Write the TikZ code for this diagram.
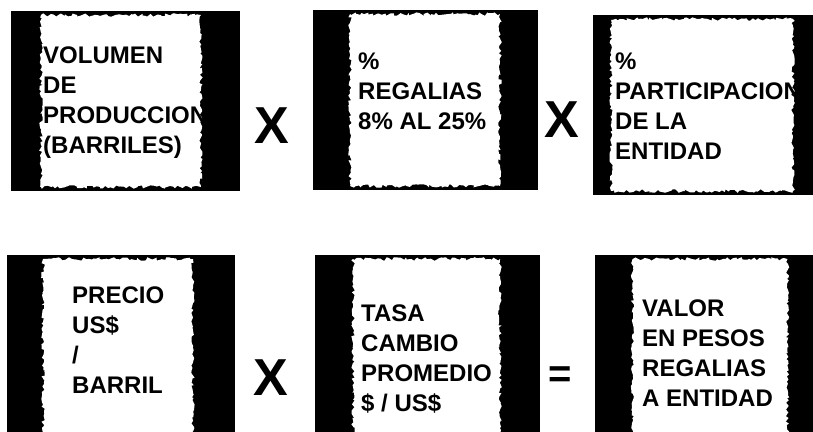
\documentclass[tikz,border=0pt]{standalone}
\usepackage{fontspec}
\setmainfont{Liberation Sans}
\usetikzlibrary{decorations.pathmorphing}

\begin{document}
\begin{tikzpicture}[x=1pt, y=-1pt]
	\tikzstyle{marco} = [rectangle, fill=black, inner sep=0pt, minimum height=180pt]
	\tikzstyle{hueco} = [rectangle, fill=white, inner sep=0pt, minimum height=172pt,
		decorate, decoration={random steps, segment length=2.5pt, amplitude=1.8pt}]
	\tikzstyle{texto} = [anchor=north west, inner sep=0pt, align=left,
		font=\fontsize{24}{30}\selectfont\bfseries]
	\tikzstyle{oper} = [inner sep=0pt, font=\fontsize{52}{52}\selectfont\bfseries]

	\clip (0,0) rectangle (813,431);
	\fill[white] (0,0) rectangle (813,431);

	% fila superior
	\node[marco, minimum width=229pt](volumen) at (125.5,101){};
	\node[hueco, minimum width=160pt](volumenin) at (121,101){};
	\node[texto](volumentx) at (43,47){VOLUMEN\\DE\\PRODUCCION\\(BARRILES)};

	\node[marco, minimum width=225pt](regalias) at (425.5,100){};
	\node[hueco, minimum width=150pt](regaliasin) at (425,100){};
	\node[texto](regaliastx) at (358,53){\%\\REGALIAS\\8\% AL 25\%};

	\node[marco, minimum width=227pt](particip) at (706.5,105){};
	\node[hueco, minimum width=182pt](participin) at (702,105){};
	\node[texto](participtx) at (615,53){\%\\PARTICIPACION\\DE LA\\ENTIDAD};

	% fila inferior
	\node[marco, minimum width=228pt, minimum height=190pt](precio) at (121,350){};
	\node[hueco, minimum width=150pt, minimum height=190pt](precioin) at (118,354){};
	\node[texto](preciotx) at (72,287){PRECIO\\US\$\\/\\BARRIL};

	\node[marco, minimum width=225pt, minimum height=190pt](tasa) at (427.5,350){};
	\node[hueco, minimum width=147pt, minimum height=190pt](tasain) at (426.5,354){};
	\node[texto](tasatx) at (361,305){TASA\\CAMBIO\\PROMEDIO\\\$ / US\$};

	\node[marco, minimum width=225pt, minimum height=190pt](valor) at (707.5,350){};
	\node[hueco, minimum width=155pt, minimum height=190pt](valorin) at (710,354){};
	\node[texto](valortx) at (642,300){VALOR\\EN PESOS\\REGALIAS\\A ENTIDAD};

	% operadores
	\node[oper](por1) at (272,126){X};
	\node[oper](por2) at (562,120){X};
	\node[oper](por3) at (271,378){X};
	\node[oper, font=\fontsize{40}{40}\selectfont\bfseries](igual) at (560,377){=};
\end{tikzpicture}
\end{document}
